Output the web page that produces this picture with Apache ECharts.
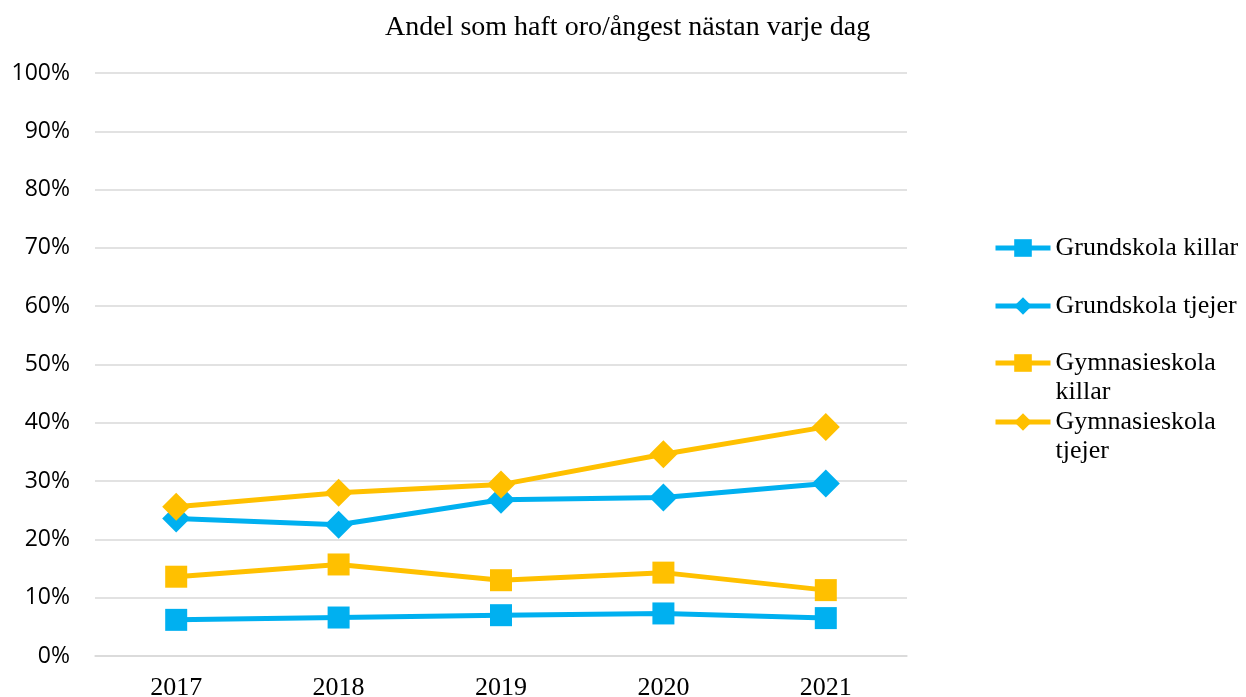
<!DOCTYPE html>
<html>
<head>
<meta charset="utf-8">
<script src="https://cdn.jsdelivr.net/npm/echarts@6/dist/echarts.min.js"></script>
<style>
html,body{margin:0;padding:0;background:#fff;}
#chart{width:1246px;height:697px;}
</style>
</head>
<body>
<div id="chart"></div>
<script>
const titleText = 'Andel som haft oro/ångest nästan varje dag';
const years = ['2017', '2018', '2019', '2020', '2021'];
const grundKillar = [6.2, 6.6, 7.0, 7.3, 6.5];
const grundTjejer = [23.6, 22.5, 26.8, 27.2, 29.6];
const gymKillar = [13.6, 15.7, 13.0, 14.3, 11.3];
const gymTjejer = [25.6, 28.0, 29.4, 34.6, 39.3];
const seriesNames = ['Grundskola killar', 'Grundskola tjejer', 'Gymnasieskola killar', 'Gymnasieskola tjejer'];
const legendLabels = ['Grundskola killar', 'Grundskola tjejer', '\nGymnasieskola\nkillar', '\nGymnasieskola\ntjejer'];

const BLUE = '#00B0F0', YELLOW = '#FFC000';
const serif = '"Liberation Serif","Times New Roman",serif';

function mkLegend(i, top) {
  return {
    data: [seriesNames[i]],
    left: 993,
    top: top,
    padding: 0,
    itemWidth: 55,
    itemHeight: 22,
    itemGap: 0,
    lineStyle: { width: 5 },
    formatter: function () { return legendLabels[i]; },
    textStyle: {
      fontFamily: serif,
      fontSize: 26,
      color: '#000',
      lineHeight: 29
    }
  };
}

function mkSeries(i, data, color, symbol, size) {
  return {
    name: seriesNames[i],
    type: 'line',
    data: data,
    symbol: symbol,
    symbolSize: size,
    showAllSymbol: true,
    lineStyle: { color: color, width: 5 },
    itemStyle: { color: color },
    emphasis: { disabled: true },
    animation: false
  };
}

const chart = echarts.init(document.getElementById('chart'), null, { renderer: 'canvas' });
chart.setOption({
  backgroundColor: '#fff',
  animation: false,
  title: {
    text: titleText,
    left: 385,
    top: 14,
    padding: 0,
    textStyle: { fontFamily: serif, fontSize: 28, fontWeight: 'normal', color: '#000' }
  },
  legend: [
    mkLegend(0, 233.5),
    mkLegend(1, 291.5),
    mkLegend(2, 319.5),
    mkLegend(3, 378.5)
  ],
  grid: { left: 95, right: 339, top: 73, bottom: 41, containLabel: false, outerBoundsMode: 'none' },
  xAxis: {
    type: 'category',
    data: years,
    boundaryGap: true,
    axisLine: { show: true, lineStyle: { color: '#d9d9d9', width: 1.5 } },
    axisTick: { show: false },
    axisLabel: { fontFamily: serif, fontSize: 26, color: '#000', margin: 19 }
  },
  yAxis: {
    type: 'value',
    min: 0,
    max: 100,
    interval: 10,
    axisLine: { show: false },
    axisTick: { show: false },
    splitLine: { lineStyle: { color: '#d9d9d9', width: 1.5 } },
    axisLabel: {
      formatter: '{value}%',
      fontFamily: '"Open Sans", sans-serif',
      fontSize: 23,
      color: '#000',
      margin: 25
    }
  },
  series: [
    mkSeries(0, grundKillar, BLUE, 'rect', 22),
    mkSeries(1, grundTjejer, BLUE, 'diamond', 28),
    mkSeries(2, gymKillar, YELLOW, 'rect', 22),
    mkSeries(3, gymTjejer, YELLOW, 'diamond', 28)
  ]
});
</script>
</body>
</html>
